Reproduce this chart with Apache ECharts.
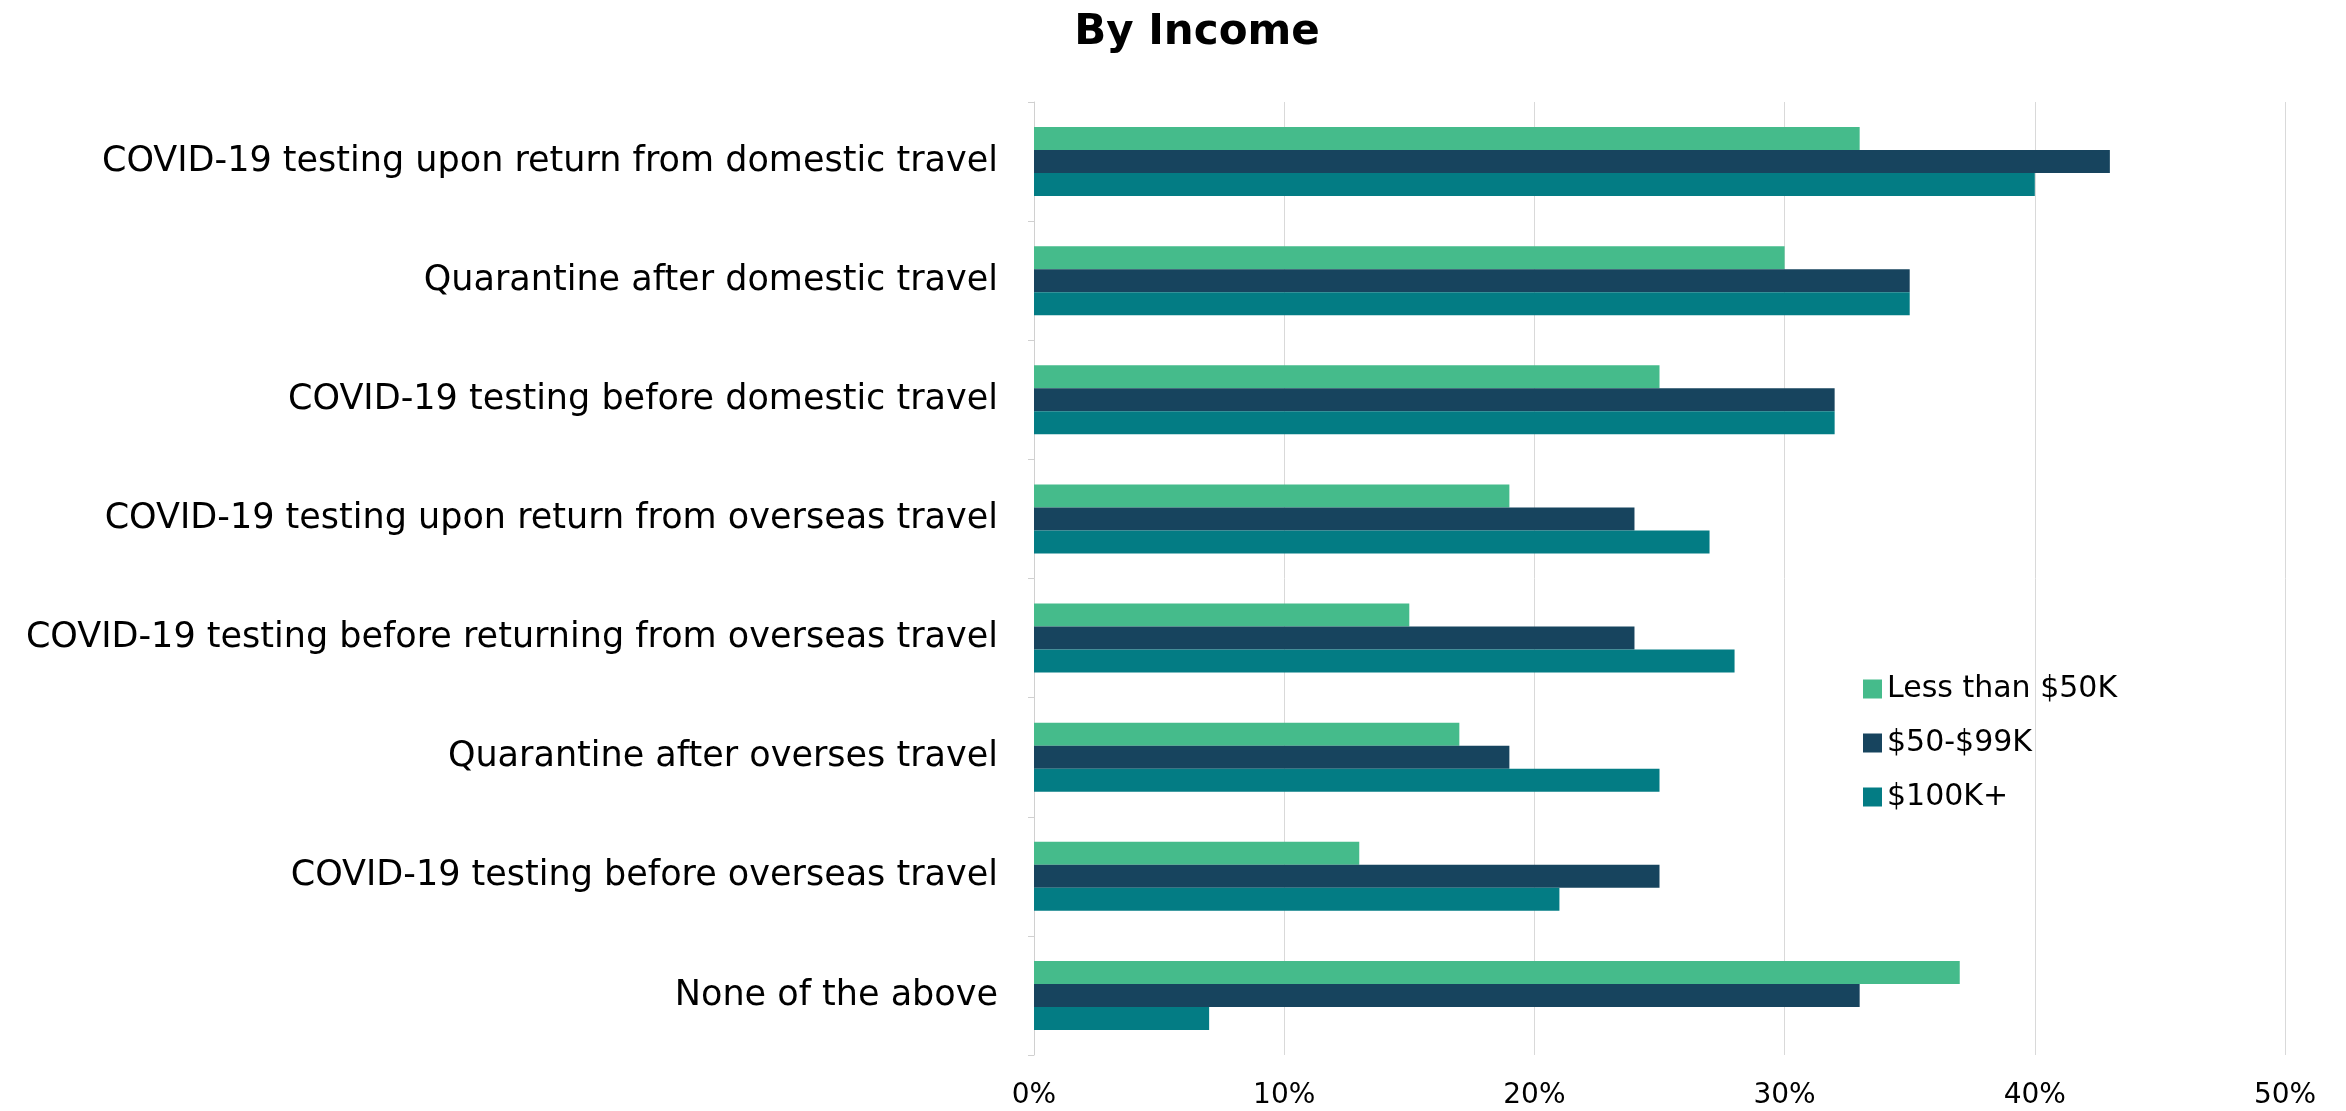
<!DOCTYPE html>
<html><head><meta charset="utf-8">
<script src="https://cdn.jsdelivr.net/npm/echarts@6/dist/echarts.min.js"></script>
<style>html,body{margin:0;padding:0;background:#fff}#c{width:2346px;height:1111px}</style>
</head><body><div id="c"></div>
<script>
const categories = [
  "COVID-19 testing upon return from domestic travel",
  "Quarantine after domestic travel",
  "COVID-19 testing before domestic travel",
  "COVID-19 testing upon return from overseas travel",
  "COVID-19 testing before returning from overseas travel",
  "Quarantine after overses travel",
  "COVID-19 testing before overseas travel",
  "None of the above"
];
const seriesNames = ["Less than $50K", "$50-$99K", "$100K+"];
const lessThan50K = [33, 30, 25, 19, 15, 17, 13, 37];
const from50to99K = [43, 35, 32, 24, 24, 19, 25, 33];
const over100K    = [40, 35, 32, 27, 28, 25, 21, 7];
const xTicks = [0, 10, 20, 30, 40, 50];

const colors = ["#45BB8B", "#17445E", "#037C84"];
const FONT = "DejaVu Sans";
const chart = echarts.init(document.getElementById('c'));
const mk = (name, data, i) => ({
  name, type: 'bar', data, barGap: '0%', barCategoryGap: '42%',
  itemStyle: { color: colors[i] }
});
chart.setOption({
  animation: false,
  title: { text: 'By Income', left: 1192, textAlign: 'center', top: 7,
    textStyle: { fontFamily: FONT, fontSize: 42, fontWeight: 'bold', color: '#000' } },
  legend: {
    orient: 'vertical', left: 1858, top: 669, itemWidth: 19, itemHeight: 19, itemGap: 24,
    icon: 'rect',
    textStyle: { fontFamily: FONT, fontSize: 30, color: '#000', lineHeight: 30 }
  },
  grid: { left: 1034, right: 61, top: 102, bottom: 56, containLabel: false, outerBoundsMode: 'none' },
  xAxis: {
    type: 'value', min: xTicks[0], max: xTicks[xTicks.length - 1], interval: 10,
    axisLine: { show: false }, axisTick: { show: false },
    splitLine: { lineStyle: { color: '#d9d9d9', width: 1 } },
    axisLabel: { formatter: '{value}%', fontFamily: FONT, fontSize: 28, color: '#000', margin: 27 }
  },
  yAxis: {
    type: 'category', data: categories, inverse: true,
    axisLine: { lineStyle: { color: '#d0d0d0', width: 1 } },
    axisTick: { show: true, length: 6, lineStyle: { color: '#d0d0d0' } },
    axisLabel: { fontFamily: FONT, fontSize: 35, color: '#000', margin: 36 }
  },
  series: [mk(seriesNames[0], lessThan50K, 0), mk(seriesNames[1], from50to99K, 1), mk(seriesNames[2], over100K, 2)]
});
</script></body></html>
